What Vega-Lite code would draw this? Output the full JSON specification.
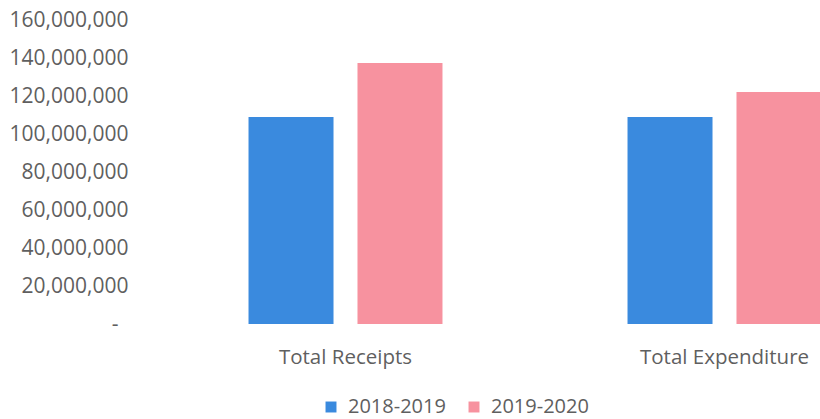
{
  "$schema": "https://vega.github.io/schema/vega-lite/v6.json",
  "width": 664,
  "height": 304,
  "autosize": "none",
  "padding": {"left": 156, "top": 20, "right": 0, "bottom": 95},
  "background": "white",
  "config": {
    "view": {"stroke": null},
    "font": "Open Sans",
    "axis": {"labelFont": "Open Sans", "labelColor": "#5f5f5f"},
    "legend": {"labelFont": "Open Sans", "labelColor": "#5f5f5f"}
  },
  "data": {
    "values": [
      {"category": "Total Receipts", "year": "2018-2019", "amount": 109000000},
      {"category": "Total Receipts", "year": "2019-2020", "amount": 137400000},
      {"category": "Total Expenditure", "year": "2018-2019", "amount": 109000000},
      {"category": "Total Expenditure", "year": "2019-2020", "amount": 122100000}
    ]
  },
  "mark": {"type": "bar", "clip": true},
  "encoding": {
    "x": {
      "field": "category",
      "type": "nominal",
      "sort": ["Total Receipts", "Total Expenditure"],
      "scale": {"range": [0, 758], "paddingInner": 0, "paddingOuter": 0},
      "axis": {
        "title": null,
        "labelAngle": 0,
        "domain": false,
        "ticks": false,
        "labelFontSize": 20.5,
        "labelPadding": 23
      }
    },
    "xOffset": {
      "field": "year",
      "type": "nominal",
      "scale": {"paddingInner": 0.22, "paddingOuter": 0.849}
    },
    "y": {
      "field": "amount",
      "type": "quantitative",
      "scale": {"domain": [0, 160000000], "nice": false},
      "axis": {
        "title": null,
        "values": [0, 20000000, 40000000, 60000000, 80000000, 100000000, 120000000, 140000000, 160000000],
        "labelExpr": "datum.value == 0 ? '-' : format(datum.value, ',')",
        "domain": false,
        "ticks": false,
        "grid": false,
        "labelFontSize": 21,
        "labelPadding": {"condition": {"test": "datum.value == 0", "value": 38}, "value": 28}
      }
    },
    "color": {
      "field": "year",
      "type": "nominal",
      "scale": {"domain": ["2018-2019", "2019-2020"], "range": ["#3a8ade", "#f7929f"]},
      "legend": {
        "title": null,
        "orient": "none",
        "direction": "horizontal",
        "legendX": 165,
        "legendY": 377,
        "symbolType": "square",
        "symbolSize": 120,
        "symbolStrokeWidth": 0,
        "labelFontSize": 20,
        "labelOffset": 7,
        "columnPadding": 18
      }
    }
  }
}
